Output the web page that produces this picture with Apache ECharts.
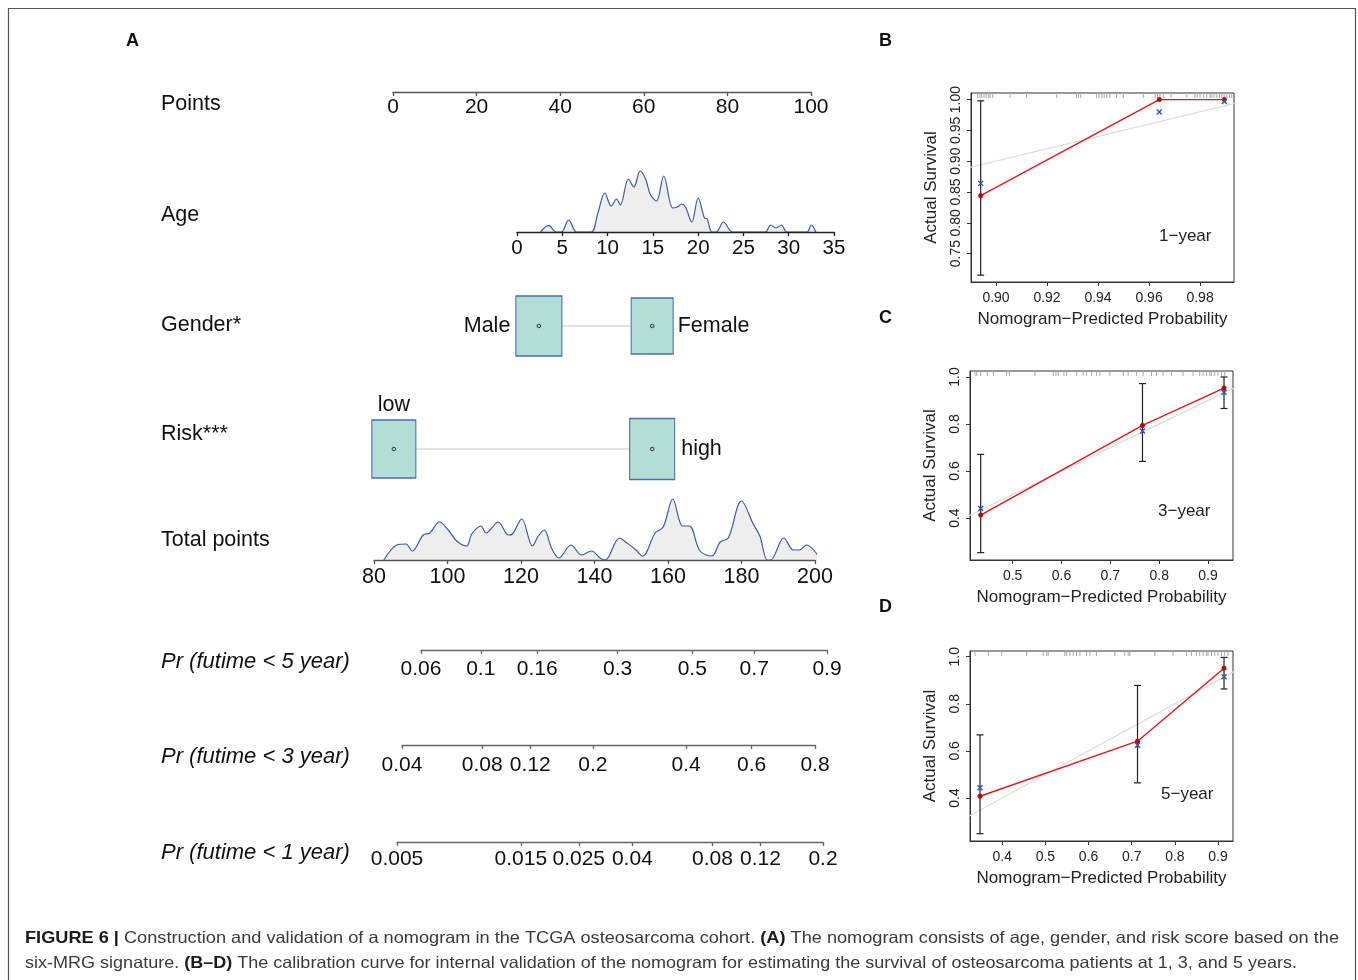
<!DOCTYPE html>
<html><head><meta charset="utf-8">
<script src="https://cdn.jsdelivr.net/npm/echarts@6/dist/echarts.min.js"></script>
<style>html,body{margin:0;padding:0;background:#fff}#c{width:1358px;height:980px}</style>
</head><body><div id="c"></div><script>
// ---------------- DATA ----------------
const pointsTicks = [0, 20, 40, 60, 80, 100];
const ageTicks = [0, 5, 10, 15, 20, 25, 30, 35];
const ageDensity = [[2.6,0],[3.5,6.7],[4.3,0],[4.9,0],[5.7,12],[6.6,0],[8.2,0],[8.9,18],[9.7,39],[10.4,26],[11.0,33],[11.4,27],[12.3,53],[12.9,45],[13.6,61],[14.2,53],[14.7,38],[15.4,31],[16.2,56],[17.2,24],[17.7,25],[18.2,28],[18.6,25],[19.3,10],[20.0,34],[20.7,14],[21.0,13],[21.5,0],[22.0,0],[22.8,10],[23.8,0],[27.4,0],[28.0,7],[28.6,4],[29.2,7],[29.8,0],[32.0,0],[32.5,7],[33.0,0]];
const genderLevels = ['Male', 'Female'];
const genderPoints = [34.9, 62.0];
const riskLevels = ['low', 'high'];
const riskPoints = [0.2, 62.0];
const totalTicks = [80, 100, 120, 140, 160, 180, 200];
const totalDensity = [[82.7,0],[86.2,15],[88.7,16],[90.4,9],[93.4,25],[95.2,27],[97.8,38],[100.2,30],[102.5,19],[105.2,14],[106.6,26],[109.1,34],[110.5,27],[113.8,38],[116.6,25],[117.7,26],[120.2,41],[123.1,14],[124.7,24],[126.3,30],[128.3,12],[130.3,2],[133.6,15],[136.5,5],[139.2,9],[141.5,2],[142.9,0],[146.8,22],[148.8,17],[151.0,11],[153.1,4],[156.5,27],[158.7,33],[161.3,61],[164.0,34],[165.8,34],[168.7,9],[171.9,4],[174.2,18],[176.4,22],[180.0,59],[183.2,36],[185.0,24],[187.0,0],[187.9,0],[191.5,22],[194.1,10],[195.7,10],[197.7,15],[201.6,0]];
const pr5Ticks = [0.06, 0.1, 0.16, 0.3, 0.5, 0.7, 0.9];
const pr3Ticks = [0.04, 0.08, 0.12, 0.2, 0.4, 0.6, 0.8];
const pr1Ticks = [0.005, 0.015, 0.025, 0.04, 0.08, 0.12, 0.2];

// calibration 1-year
const cal1XTicks = [0.90, 0.92, 0.94, 0.96, 0.98];
const cal1YTicks = [0.75, 0.80, 0.85, 0.90, 0.95, 1.00];
const cal1Pred = [0.894, 0.964, 0.9895];
const cal1Obs = [0.844, 1.0, 1.0];
const cal1Corr = [0.864, 0.980, 0.997];
const cal1Lo = [0.715, 1.0, 1.0];
const cal1Hi = [0.998, 1.0, 1.0];
const cal1Rug = [0.8928,0.8937,0.8944,0.8953,0.8961,0.8970,0.8976,0.8987,0.9055,0.9120,0.9238,0.9316,0.9323,0.9332,0.9395,0.9404,0.9415,0.9424,0.9434,0.9447,0.9473,0.9499,0.9578,0.9624,0.9633,0.9643,0.9656,0.9686,0.9748,0.9780,0.9789,0.9800,0.9813,0.9826,0.9839,0.9846,0.9855,0.9866,0.9876,0.9885,0.9894,0.9905,0.9915,0.9924];
// calibration 3-year
const cal3XTicks = [0.5, 0.6, 0.7, 0.8, 0.9];
const cal3YTicks = [0.4, 0.6, 0.8, 1.0];
const cal3Pred = [0.4346, 0.7658, 0.9327];
const cal3Obs = [0.413, 0.794, 0.953];
const cal3Corr = [0.441, 0.770, 0.935];
const cal3Lo = [0.253, 0.641, 0.866];
const cal3Hi = [0.671, 0.972, 1.0];
const cal3Rug = [0.4229,0.4264,0.4346,0.4481,0.4604,0.4877,0.4932,0.5456,0.5831,0.5885,0.5933,0.6049,0.6104,0.6309,0.6444,0.6513,0.6615,0.6718,0.6785,0.6990,0.7262,0.7364,0.7536,0.7671,0.7843,0.7945,0.8080,0.8252,0.8489,0.8693,0.8830,0.8898,0.8967,0.9035,0.9069,0.9137,0.9205,0.9274,0.9342];
// calibration 5-year
const cal5XTicks = [0.4, 0.5, 0.6, 0.7, 0.8, 0.9];
const cal5YTicks = [0.4, 0.6, 0.8, 1.0];
const cal5Pred = [0.3484, 0.7134, 0.9139];
const cal5Obs = [0.407, 0.641, 0.951];
const cal5Corr = [0.443, 0.624, 0.915];
const cal5Lo = [0.248, 0.464, 0.863];
const cal5Hi = [0.668, 0.878, 0.997];
const cal5Rug = [0.3368,0.3676,0.3986,0.4565,0.4949,0.5028,0.5065,0.5451,0.5491,0.5567,0.5644,0.5722,0.5799,0.5954,0.6030,0.6185,0.6609,0.6840,0.6917,0.6956,0.7535,0.7958,0.8269,0.8384,0.8500,0.8576,0.8653,0.8731,0.8769,0.8847,0.8924,0.9000,0.9079,0.9155,0.9231];
const idealLine = [[0, 0], [1, 1]];

// ---------------- BUILD ----------------
const FONT = "'Liberation Sans', Arial, sans-serif";
const cll = p => Math.log(-Math.log(1 - p));
const grids = [], xAxes = [], yAxes = [], series = [];
function addGrid(g, x, y) {
  grids.push(g);
  const i = grids.length - 1;
  xAxes.push(Object.assign({ gridIndex: i }, x));
  yAxes.push(Object.assign({ gridIndex: i }, y));
  return i;
}
function nomoAxis(ticks, color, fs, margin) {
  return {
    type: 'value', min: ticks[0], max: ticks[ticks.length - 1], interval: ticks[1] - ticks[0], z: 5,
    axisLine: { show: true, lineStyle: { color: color, width: 1.3 } },
    axisTick: { show: true, length: 4, lineStyle: { color: color, width: 1.3 } },
    axisLabel: { fontSize: fs, color: '#111', margin: margin, fontFamily: FONT },
    splitLine: { show: false }
  };
}
function prAxis(ticks, margin) {
  const vals = ticks.map(cll);
  return {
    type: 'value', min: vals[0], max: vals[vals.length - 1],
    axisLine: { show: true, lineStyle: { color: '#666', width: 1.3 } },
    axisTick: { show: true, length: 4, customValues: vals, lineStyle: { color: '#666', width: 1.3 } },
    axisLabel: {
      customValues: vals, fontSize: 21, color: '#111', margin: margin, fontFamily: FONT,
      formatter: v => { let best = 0, d = 1e9; vals.forEach((t, i) => { if (Math.abs(t - v) < d) { d = Math.abs(t - v); best = i; } }); return String(ticks[best]); }
    },
    splitLine: { show: false }
  };
}
const hidY = (mn, mx) => ({ type: 'value', show: false, min: mn, max: mx });
const hidX = (mn, mx) => ({ type: 'value', show: false, min: mn, max: mx });
const densityStyle = { type: 'line', smooth: 0.35, symbol: 'none', clip: false, lineStyle: { color: '#3b5ba5', width: 1.2 }, areaStyle: { color: '#eeeeee', opacity: 1 }, z: 1, silent: true };
const boxStyle = { color: '#b2ded5', borderColor: '#4b6cb7', borderWidth: 1.2, opacity: 1 };

// Points
addGrid({ left: 393, top: 82, width: 418, height: 10 }, nomoAxis(pointsTicks, '#555', 21, 5), hidY(0, 1));
// Age
const gAge = addGrid({ left: 517, top: 162, width: 317, height: 70 }, nomoAxis(ageTicks, '#222', 20.5, 6), hidY(0, 70));
series.push(Object.assign({}, densityStyle, { xAxisIndex: gAge, yAxisIndex: gAge, data: ageDensity }));
// Gender & Risk
function factorRow(top, levels, pts, sizes, pos, dists) {
  const g = addGrid({ left: 393, top: top, width: 418, height: 60 }, hidX(0, 100), hidY(-1, 1));
  series.push({ type: 'line', xAxisIndex: g, yAxisIndex: g, data: pts.map(p => [p, 0]), symbol: 'none', lineStyle: { color: '#c8c8c8', width: 1 }, z: 1, silent: true });
  series.push({
    type: 'scatter', xAxisIndex: g, yAxisIndex: g, symbol: 'rect', itemStyle: boxStyle, z: 2, silent: true,
    label: { show: true, formatter: '{b}', fontSize: 21.5, color: '#111', opacity: 1, textBorderWidth: 0, fontFamily: FONT },
    data: levels.map((n, i) => ({ name: n, value: [pts[i], 0], symbolSize: sizes[i], label: { position: pos[i], distance: dists[i] } }))
  });
  series.push({ type: 'scatter', xAxisIndex: g, yAxisIndex: g, symbol: 'circle', symbolSize: 3.5, itemStyle: { color: '#b2ded5', borderColor: '#333', borderWidth: 1, opacity: 1 }, z: 3, silent: true, data: pts.map(p => [p, 0]) });
}
factorRow(296, genderLevels, genderPoints, [[46, 60], [42, 56]], ['left', 'right'], [5, 4]);
factorRow(419, riskLevels, riskPoints, [[44, 58], [45, 61]], ['top', 'right'], [3, 6]);
// Total points
const gTot = addGrid({ left: 374, top: 490, width: 441, height: 70 }, nomoAxis(totalTicks, '#555', 21.5, 6), hidY(0, 70));
series.push(Object.assign({}, densityStyle, { xAxisIndex: gTot, yAxisIndex: gTot, data: totalDensity }));
// Pr axes
addGrid({ left: 421, top: 640, width: 406, height: 10 }, prAxis(pr5Ticks, 9), hidY(0, 1));
addGrid({ left: 402, top: 735, width: 413, height: 10 }, prAxis(pr3Ticks, 10), hidY(0, 1));
addGrid({ left: 397, top: 832, width: 426, height: 10 }, prAxis(pr1Ticks, 7), hidY(0, 1));

// Calibration panels
function calAxis(min, max, ticks, dec, name, gap, isY) {
  const a = {
    type: 'value', min: min, max: max,
    axisLine: { show: true, lineStyle: { color: '#333', width: 1 } },
    axisTick: { show: true, length: 4, customValues: ticks, lineStyle: { color: '#333', width: 1 } },
    axisLabel: { customValues: ticks, formatter: v => v.toFixed(dec), fontSize: 14, color: '#222', margin: isY ? 8 : 9, fontFamily: FONT },
    splitLine: { show: false },
    name: name, nameLocation: 'middle', nameGap: gap,
    nameTextStyle: { fontSize: 17, color: '#222', fontFamily: FONT }
  };
  if (isY) { a.axisLabel.rotate = 90; a.nameRotate = 90; }
  return a;
}
function calPanel(box, xr, yr, xt, yt, dec, pred, obs, corr, lo, hi, rug) {
  const g = addGrid(Object.assign({ show: true, borderColor: '#333', borderWidth: 1, backgroundColor: 'transparent' }, box),
    calAxis(xr[0], xr[1], xt, dec, 'Nomogram\u2212Predicted Probability', 29, false),
    calAxis(yr[0], yr[1], yt, dec, 'Actual Survival', 31, true));
  series.push({ type: 'line', xAxisIndex: g, yAxisIndex: g, data: idealLine, symbol: 'none', lineStyle: { color: '#dcdcdc', width: 1.2 }, z: 1, silent: true });
  series.push({ type: 'scatter', xAxisIndex: g, yAxisIndex: g, data: rug.map(v => [v, yr[1]]), symbol: 'rect', symbolSize: [1, 5], symbolOffset: [0, 2.5], itemStyle: { color: '#a8a8a8', opacity: 1 }, clip: false, z: 1, silent: true });
  series.push({
    type: 'custom', xAxisIndex: g, yAxisIndex: g, clip: false, z: 2, silent: true,
    data: pred.map((p, i) => [p, lo[i], hi[i]]).filter(d => d[2] > d[1]),
    encode: { x: 0, y: [1, 2] },
    renderItem: (params, api) => {
      const a = api.coord([api.value(0), api.value(1)]);
      const b = api.coord([api.value(0), api.value(2)]);
      const s = { stroke: '#222', lineWidth: 1.2 };
      return { type: 'group', children: [
        { type: 'line', shape: { x1: a[0], y1: a[1], x2: b[0], y2: b[1] }, style: s },
        { type: 'line', shape: { x1: a[0] - 3.5, y1: a[1], x2: a[0] + 3.5, y2: a[1] }, style: s },
        { type: 'line', shape: { x1: b[0] - 3.5, y1: b[1], x2: b[0] + 3.5, y2: b[1] }, style: s }
      ] };
    }
  });
  series.push({ type: 'line', xAxisIndex: g, yAxisIndex: g, data: pred.map((p, i) => [p, obs[i]]), symbol: 'circle', symbolSize: 4.5, lineStyle: { color: '#e3191c', width: 1.4 }, itemStyle: { color: '#c00000', borderColor: '#8b0000', borderWidth: 0.5 }, z: 3, silent: true });
  series.push({ type: 'scatter', xAxisIndex: g, yAxisIndex: g, data: pred.map((p, i) => [p, corr[i]]), symbol: 'path://M0,0L10,10M10,0L0,10', symbolSize: 5, itemStyle: { color: 'none', borderColor: '#3355aa', borderWidth: 1.4, opacity: 1 }, z: 4, silent: true });
}
calPanel({ left: 971, top: 93, width: 263, height: 189 }, [0.8902, 0.9933], [0.7039, 1.0107], cal1XTicks, cal1YTicks, 2, cal1Pred, cal1Obs, cal1Corr, cal1Lo, cal1Hi, cal1Rug);
calPanel({ left: 970, top: 371, width: 263, height: 189 }, [0.4127, 0.9511], [0.2217, 1.0255], cal3XTicks, cal3YTicks, 1, cal3Pred, cal3Obs, cal3Corr, cal3Lo, cal3Hi, cal3Rug);
calPanel({ left: 970, top: 651, width: 263, height: 190 }, [0.3252, 0.9347], [0.217, 1.0243], cal5XTicks, cal5YTicks, 1, cal5Pred, cal5Obs, cal5Corr, cal5Lo, cal5Hi, cal5Rug);

// ---------------- TEXT ----------------
const txt = (x, y, t, o) => ({ type: 'text', x: x, y: y, silent: true, style: Object.assign({ text: t, fill: '#111', font: '21.5px ' + FONT, verticalAlign: 'middle', align: 'left' }, o || {}) });
const graphics = [
  { type: 'rect', silent: true, shape: { x: 8.5, y: 8.5, width: 1347, height: 1000 }, style: { fill: 'none', stroke: '#555', lineWidth: 1.2 } },
  txt(126, 41, 'A', { font: 'bold 18px ' + FONT }),
  txt(879, 41, 'B', { font: 'bold 18px ' + FONT }),
  txt(879, 318, 'C', { font: 'bold 18px ' + FONT }),
  txt(879, 607, 'D', { font: 'bold 18px ' + FONT }),
  txt(161, 104, 'Points'),
  txt(161, 215, 'Age'),
  txt(161, 325, 'Gender*'),
  txt(161, 434, 'Risk***'),
  txt(161, 540, 'Total points'),
  txt(161, 662, 'Pr (futime < 5 year)', { font: 'italic 22px ' + FONT }),
  txt(161, 757, 'Pr (futime < 3 year)', { font: 'italic 22px ' + FONT }),
  txt(161, 853, 'Pr (futime < 1 year)', { font: 'italic 22px ' + FONT }),
  txt(1159, 236, '1\u2212year', { font: '17px ' + FONT, fill: '#222' }),
  txt(1158, 511, '3\u2212year', { font: '17px ' + FONT, fill: '#222' }),
  txt(1161, 794, '5\u2212year', { font: '17px ' + FONT, fill: '#222' })
];
// caption
const CAPSIZE = 16.5;
const capLines = [
  { y: 938, w: 1314, segs: [['b', 'FIGURE 6 | '], ['r', 'Construction and validation of a nomogram in the TCGA osteosarcoma cohort. '], ['b', '(A)'], ['r', ' The nomogram consists of age, gender, and risk score based on the']] },
  { y: 963, w: 1272, segs: [['r', 'six-MRG signature. '], ['b', '(B\u2013D)'], ['r', ' The calibration curve for internal validation of the nomogram for estimating the survival of osteosarcoma patients at 1, 3, and 5 years.']] }
];
const ctx = document.createElement('canvas').getContext('2d');
capLines.forEach(L => {
  let w = 0;
  L.segs.forEach(s => { ctx.font = (s[0] === 'b' ? 'bold ' : '') + CAPSIZE + 'px Liberation Sans'; w += ctx.measureText(s[1]).width; });
  graphics.push({
    type: 'text', x: 25, y: L.y, scaleX: L.w / w, silent: true,
    style: {
      text: L.segs.map(s => '{' + s[0] + '|' + s[1] + '}').join(''), verticalAlign: 'middle', align: 'left',
      rich: {
        b: { fontFamily: 'Liberation Sans', fontSize: CAPSIZE, fontWeight: 'bold', fill: '#1a1a1a', color: '#1a1a1a' },
        r: { fontFamily: 'Liberation Sans', fontSize: CAPSIZE, fill: '#3a3a3a', color: '#3a3a3a' }
      }
    }
  });
});

const chart = echarts.init(document.getElementById('c'), null, { renderer: 'canvas' });
chart.setOption({
  animation: false,
  backgroundColor: '#ffffff',
  textStyle: { fontFamily: FONT },
  grid: grids, xAxis: xAxes, yAxis: yAxes, series: series,
  graphic: graphics
});
</script></body></html>
